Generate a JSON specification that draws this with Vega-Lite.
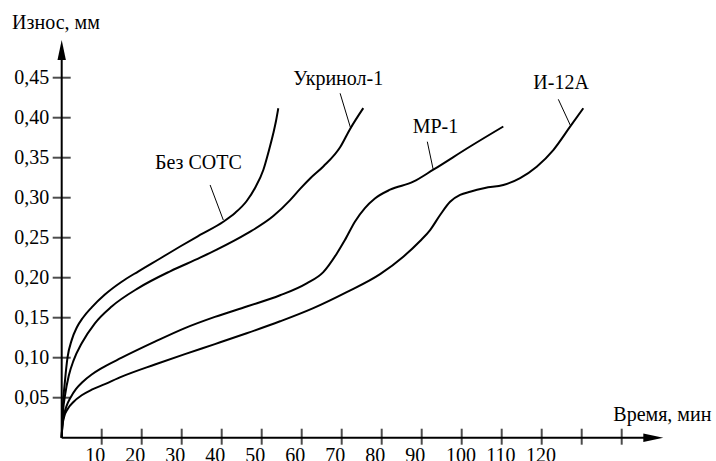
{
  "$schema": "https://vega.github.io/schema/vega-lite/v6.json",
  "width": 654.3,
  "height": 437.7,
  "autosize": {"type": "none"},
  "padding": {"left": 61.7, "top": 0, "right": 0, "bottom": 23.3},
  "background": "white",
  "config": {
    "view": {"stroke": null},
    "axis": {"domain": false, "ticks": false, "tickSize": 0, "grid": false, "title": null,
             "labelFont": "Liberation Serif", "labelFontSize": 20,
             "labelColor": "black", "labelFlush": false, "labelOverlap": false}
  },
  "datasets": {
    "curves": [
      {"s": "Без СОТС", "x": 0, "y": 0},
      {"s": "Без СОТС", "x": 0.3, "y": 0.04},
      {"s": "Без СОТС", "x": 0.8, "y": 0.07},
      {"s": "Без СОТС", "x": 1.45, "y": 0.1},
      {"s": "Без СОТС", "x": 2.5, "y": 0.122},
      {"s": "Без СОТС", "x": 3.8, "y": 0.138},
      {"s": "Без СОТС", "x": 5.3, "y": 0.15},
      {"s": "Без СОТС", "x": 7.5, "y": 0.163},
      {"s": "Без СОТС", "x": 10.8, "y": 0.179},
      {"s": "Без СОТС", "x": 15, "y": 0.195},
      {"s": "Без СОТС", "x": 19.2, "y": 0.208},
      {"s": "Без СОТС", "x": 24.6, "y": 0.224},
      {"s": "Без СОТС", "x": 29.6, "y": 0.239},
      {"s": "Без СОТС", "x": 34.575, "y": 0.2534},
      {"s": "Без СОТС", "x": 40.4, "y": 0.27},
      {"s": "Без СОТС", "x": 43.325, "y": 0.2809},
      {"s": "Без СОТС", "x": 46.25, "y": 0.2959},
      {"s": "Без СОТС", "x": 48.325, "y": 0.3121},
      {"s": "Без СОТС", "x": 50.4, "y": 0.3346},
      {"s": "Без СОТС", "x": 51.7, "y": 0.3571},
      {"s": "Без СОТС", "x": 52.9, "y": 0.3805},
      {"s": "Без СОТС", "x": 53.575, "y": 0.3959},
      {"s": "Без СОТС", "x": 54.15, "y": 0.4118},
      {"s": "Укринол-1", "x": 0, "y": 0},
      {"s": "Укринол-1", "x": 0.3, "y": 0.03},
      {"s": "Укринол-1", "x": 0.9, "y": 0.055},
      {"s": "Укринол-1", "x": 1.8, "y": 0.078},
      {"s": "Укринол-1", "x": 3, "y": 0.097},
      {"s": "Укринол-1", "x": 5, "y": 0.118},
      {"s": "Укринол-1", "x": 8.3, "y": 0.143},
      {"s": "Укринол-1", "x": 12.5, "y": 0.164},
      {"s": "Укринол-1", "x": 19.15, "y": 0.187},
      {"s": "Укринол-1", "x": 27.1, "y": 0.208},
      {"s": "Укринол-1", "x": 34.6, "y": 0.225},
      {"s": "Укринол-1", "x": 38.75, "y": 0.235},
      {"s": "Укринол-1", "x": 46.25, "y": 0.255},
      {"s": "Укринол-1", "x": 52.9, "y": 0.277},
      {"s": "Укринол-1", "x": 57.1, "y": 0.297},
      {"s": "Укринол-1", "x": 59.6, "y": 0.311},
      {"s": "Укринол-1", "x": 62.1, "y": 0.324},
      {"s": "Укринол-1", "x": 65.4, "y": 0.339},
      {"s": "Укринол-1", "x": 69.6, "y": 0.363},
      {"s": "Укринол-1", "x": 72.1, "y": 0.386},
      {"s": "Укринол-1", "x": 75.4, "y": 0.412},
      {"s": "МР-1", "x": 0, "y": 0},
      {"s": "МР-1", "x": 0.15, "y": 0.015},
      {"s": "МР-1", "x": 0.5, "y": 0.027},
      {"s": "МР-1", "x": 1.25, "y": 0.04},
      {"s": "МР-1", "x": 2.3, "y": 0.051},
      {"s": "МР-1", "x": 3.6, "y": 0.061},
      {"s": "МР-1", "x": 5.3, "y": 0.07},
      {"s": "МР-1", "x": 7.5, "y": 0.079},
      {"s": "МР-1", "x": 10, "y": 0.087},
      {"s": "МР-1", "x": 15, "y": 0.1},
      {"s": "МР-1", "x": 23.3, "y": 0.12},
      {"s": "МР-1", "x": 30.8, "y": 0.137},
      {"s": "МР-1", "x": 38.3, "y": 0.151},
      {"s": "МР-1", "x": 46.25, "y": 0.164},
      {"s": "МР-1", "x": 54.6, "y": 0.178},
      {"s": "МР-1", "x": 61.25, "y": 0.193},
      {"s": "МР-1", "x": 65.4, "y": 0.207},
      {"s": "МР-1", "x": 68.75, "y": 0.23},
      {"s": "МР-1", "x": 70.8, "y": 0.247},
      {"s": "МР-1", "x": 73.3, "y": 0.27},
      {"s": "МР-1", "x": 75.8, "y": 0.287},
      {"s": "МР-1", "x": 78.3, "y": 0.299},
      {"s": "МР-1", "x": 82.1, "y": 0.31},
      {"s": "МР-1", "x": 87.9, "y": 0.32},
      {"s": "МР-1", "x": 92.9, "y": 0.335},
      {"s": "МР-1", "x": 102.1, "y": 0.364},
      {"s": "МР-1", "x": 110.4, "y": 0.389},
      {"s": "И-12А", "x": 0, "y": 0},
      {"s": "И-12А", "x": 0.15, "y": 0.014},
      {"s": "И-12А", "x": 0.6, "y": 0.026},
      {"s": "И-12А", "x": 1.5, "y": 0.036},
      {"s": "И-12А", "x": 3, "y": 0.045},
      {"s": "И-12А", "x": 5, "y": 0.053},
      {"s": "И-12А", "x": 7.5, "y": 0.06},
      {"s": "И-12А", "x": 10.8, "y": 0.067},
      {"s": "И-12А", "x": 15, "y": 0.0763},
      {"s": "И-12А", "x": 23.3, "y": 0.0915},
      {"s": "И-12А", "x": 30.8, "y": 0.1045},
      {"s": "И-12А", "x": 38.3, "y": 0.117},
      {"s": "И-12А", "x": 46.25, "y": 0.1305},
      {"s": "И-12А", "x": 54.6, "y": 0.1455},
      {"s": "И-12А", "x": 62.9, "y": 0.162},
      {"s": "И-12А", "x": 71.25, "y": 0.182},
      {"s": "И-12А", "x": 79.6, "y": 0.2045},
      {"s": "И-12А", "x": 85.4, "y": 0.2263},
      {"s": "И-12А", "x": 89.6, "y": 0.2459},
      {"s": "И-12А", "x": 92.1, "y": 0.2596},
      {"s": "И-12А", "x": 94.6, "y": 0.2784},
      {"s": "И-12А", "x": 97.1, "y": 0.295},
      {"s": "И-12А", "x": 99.6, "y": 0.3034},
      {"s": "И-12А", "x": 102.1, "y": 0.3075},
      {"s": "И-12А", "x": 105.8, "y": 0.3121},
      {"s": "И-12А", "x": 110.4, "y": 0.3159},
      {"s": "И-12А", "x": 114.6, "y": 0.3246},
      {"s": "И-12А", "x": 118.75, "y": 0.3388},
      {"s": "И-12А", "x": 122.9, "y": 0.3596},
      {"s": "И-12А", "x": 127.1, "y": 0.3888},
      {"s": "И-12А", "x": 130.4, "y": 0.4118}
    ],
    "labels": [
      {"x": 23.3, "y": 0.336, "t": "Без СОТС"},
      {"x": 57.9, "y": 0.4409, "t": "Укринол-1"},
      {"x": 87.75, "y": 0.3804, "t": "МР-1"},
      {"x": 117.9, "y": 0.4355, "t": "И-12А"},
      {"x": -12.4, "y": 0.511, "t": "Износ, мм"},
      {"x": 137.9, "y": 0.02125, "t": "Время, мин"}
    ],
    "leaders": [
      {"x": 37.1, "y": 0.3159, "x2": 40.4, "y2": 0.2721},
      {"x": 69.6, "y": 0.4305, "x2": 72.25, "y2": 0.3867},
      {"x": 91.4, "y": 0.37, "x2": 92.9, "y2": 0.3346},
      {"x": 124.15, "y": 0.423, "x2": 127.25, "y2": 0.3896}
    ],
    "xticks": [
      {"x": 10}, {"x": 20}, {"x": 30}, {"x": 40}, {"x": 50}, {"x": 60}, {"x": 70},
      {"x": 80}, {"x": 90}, {"x": 100}, {"x": 110}, {"x": 120}, {"x": 130}, {"x": 140}
    ],
    "yticks": [
      {"y": 0.05}, {"y": 0.1}, {"y": 0.15}, {"y": 0.2}, {"y": 0.25},
      {"y": 0.3}, {"y": 0.35}, {"y": 0.4}, {"y": 0.45}
    ]
  },
  "layer": [
    {
      "data": {"name": "curves"},
      "mark": {"type": "line", "color": "black", "strokeWidth": 2, "interpolate": "monotone"},
      "encoding": {
        "x": {
          "field": "x", "type": "quantitative",
          "scale": {"domain": [0, 163.575], "zero": false, "nice": false},
          "axis": {
            "values": [10, 20, 30, 40, 50, 60, 70, 80, 90, 100, 110, 120],
            "labelPadding": 8,
            "labelOffset": {"condition": {"test": "datum.value < 100", "value": -7}, "value": -1.3}
          }
        },
        "y": {
          "field": "y", "type": "quantitative",
          "scale": {"domain": [0, 0.547125], "zero": false, "nice": false},
          "axis": {
            "values": [0.05, 0.1, 0.15, 0.2, 0.25, 0.3, 0.35, 0.4, 0.45],
            "labelExpr": "replace(format(datum.value, '.2f'), '.', ',')",
            "labelPadding": 13
          }
        },
        "detail": {"field": "s", "type": "nominal"}
      }
    },
    {
      "data": {"name": "leaders"},
      "mark": {"type": "rule", "color": "black", "strokeWidth": 1},
      "encoding": {
        "x": {"field": "x", "type": "quantitative", "scale": {"domain": [0, 163.575], "zero": false, "nice": false}},
        "y": {"field": "y", "type": "quantitative", "scale": {"domain": [0, 0.547125], "zero": false, "nice": false}},
        "x2": {"field": "x2"},
        "y2": {"field": "y2"}
      }
    },
    {
      "data": {"name": "labels"},
      "mark": {"type": "text", "color": "black", "font": "Liberation Serif", "fontSize": 20, "align": "left", "baseline": "alphabetic"},
      "encoding": {
        "x": {"field": "x", "type": "quantitative", "scale": {"domain": [0, 163.575], "zero": false, "nice": false}},
        "y": {"field": "y", "type": "quantitative", "scale": {"domain": [0, 0.547125], "zero": false, "nice": false}},
        "text": {"field": "t", "type": "nominal"}
      }
    },
    {
      "data": {"values": [{}]},
      "mark": {"type": "rule", "color": "black", "strokeWidth": 2},
      "encoding": {
        "x": {"datum": 0, "type": "quantitative", "scale": {"domain": [0, 163.575], "zero": false, "nice": false}},
        "y": {"datum": 0, "type": "quantitative", "scale": {"domain": [0, 0.547125], "zero": false, "nice": false}},
        "y2": {"datum": 0.485}
      }
    },
    {
      "data": {"values": [{}]},
      "mark": {"type": "rule", "color": "black", "strokeWidth": 2},
      "encoding": {
        "x": {"datum": 0, "type": "quantitative", "scale": {"domain": [0, 163.575], "zero": false, "nice": false}},
        "x2": {"datum": 148},
        "y": {"datum": 0, "type": "quantitative", "scale": {"domain": [0, 0.547125], "zero": false, "nice": false}}
      }
    },
    {
      "data": {"name": "xticks"},
      "mark": {"type": "tick", "orient": "vertical", "color": "black", "size": 16, "thickness": 2, "yOffset": -1},
      "encoding": {
        "x": {"field": "x", "type": "quantitative", "scale": {"domain": [0, 163.575], "zero": false, "nice": false}},
        "y": {"datum": 0, "type": "quantitative", "scale": {"domain": [0, 0.547125], "zero": false, "nice": false}}
      }
    },
    {
      "data": {"name": "yticks"},
      "mark": {"type": "tick", "orient": "horizontal", "color": "black", "size": 18, "thickness": 2},
      "encoding": {
        "x": {"datum": 0, "type": "quantitative", "scale": {"domain": [0, 163.575], "zero": false, "nice": false}},
        "y": {"field": "y", "type": "quantitative", "scale": {"domain": [0, 0.547125], "zero": false, "nice": false}}
      }
    },
    {
      "data": {"values": [{}]},
      "mark": {"type": "point", "shape": "M0,0L0.42,2L-0.42,2Z", "size": 400, "filled": true, "color": "black", "opacity": 1, "strokeWidth": 0},
      "encoding": {
        "x": {"datum": 0, "type": "quantitative", "scale": {"domain": [0, 163.575], "zero": false, "nice": false}},
        "y": {"datum": 0.497, "type": "quantitative", "scale": {"domain": [0, 0.547125], "zero": false, "nice": false}}
      }
    },
    {
      "data": {"values": [{}]},
      "mark": {"type": "point", "shape": "M0,0L-2,-0.42L-2,0.42Z", "size": 400, "filled": true, "color": "black", "opacity": 1, "strokeWidth": 0},
      "encoding": {
        "x": {"datum": 150.4, "type": "quantitative", "scale": {"domain": [0, 163.575], "zero": false, "nice": false}},
        "y": {"datum": 0, "type": "quantitative", "scale": {"domain": [0, 0.547125], "zero": false, "nice": false}}
      }
    }
  ]
}
